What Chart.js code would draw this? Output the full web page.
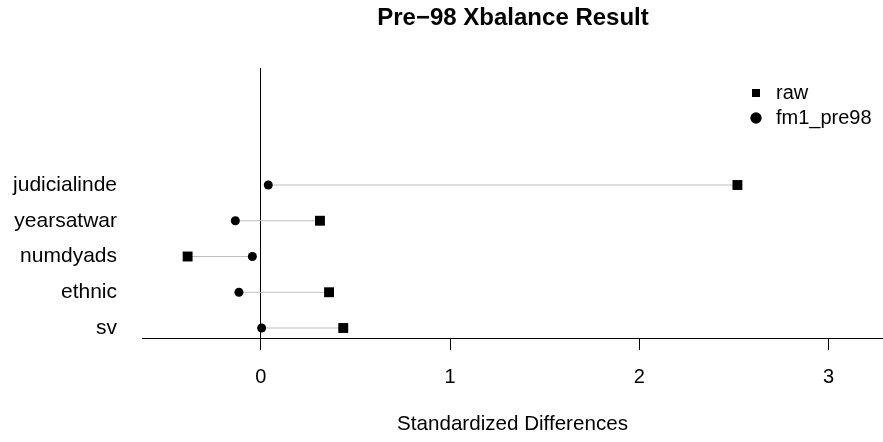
<!DOCTYPE html>
<html>
<head>
<meta charset="utf-8">
<script src="https://cdn.jsdelivr.net/npm/chart.js@4/dist/chart.umd.min.js"></script>
<style>
  html, body { margin: 0; padding: 0; background: #fff; }
  #wrap { width: 883px; height: 442px; }
</style>
</head>
<body>
<div id="wrap"><canvas id="xbalChart"></canvas></div>
<script>
const variables = ["judicialinde", "yearsatwar", "numdyads", "ethnic", "sv"];
const rawDiffs = [2.518, 0.313, -0.386, 0.361, 0.436];
const fm1Diffs = [0.04, -0.134, -0.044, -0.115, 0.005];
const xTicks = [0, 1, 2, 3];

const n = variables.length;
const rowPos = variables.map((v, i) => n - i);

Chart.defaults.font.family = "'Liberation Sans', Arial, sans-serif";
Chart.defaults.color = "#000";

// move title and legend where R put them
const placeBoxes = {
    id: "placeBoxes",
    afterLayout(chart) {
        const area = chart.chartArea;
        if (chart.titleBlock) {
            chart.titleBlock.left = area.left;
            chart.titleBlock.right = area.right + 1;
        }
        if (chart.legend) {
            chart.legend.left = 741;
            chart.legend.top = 78;
        }
    },
};

const connectors = variables.map((v, i) => ({
    label: v,
    data: [
        { x: rawDiffs[i], y: rowPos[i] },
        { x: fm1Diffs[i], y: rowPos[i] },
    ],
    showLine: true,
    borderColor: "#bebebe",
    borderWidth: 1,
    pointRadius: 0,
}));

new Chart(document.getElementById("xbalChart"), {
    type: "scatter",
    data: {
        datasets: [
            {
                label: "raw",
                data: rawDiffs.map((v, i) => ({ x: v, y: rowPos[i] })),
                pointStyle: "rect",
                pointRadius: 7,
                backgroundColor: "#000",
                borderColor: "#000",
                borderWidth: 0,
            },
            {
                label: "fm1_pre98",
                data: fm1Diffs.map((v, i) => ({ x: v, y: rowPos[i] })),
                pointStyle: "circle",
                pointRadius: 4.5,
                backgroundColor: "#000",
                borderColor: "#000",
                borderWidth: 0,
            },
            ...connectors,
        ],
    },
    options: {
        responsive: true,
        maintainAspectRatio: false,
        animation: false,
        layout: { padding: 0, autoPadding: false },
        plugins: {
            tooltip: { enabled: false },
            title: {
                display: true,
                text: "Pre\u221298 Xbalance Result",
                font: { size: 24, weight: "bold" },
                padding: { top: 4, bottom: 35.2 },
            },
            legend: {
                position: "chartArea",
                align: "start",
                labels: {
                    usePointStyle: true,
                    boxWidth: 20,
                    boxHeight: 8,
                    padding: 5,
                    font: { size: 20 },
                    filter: (item) => item.datasetIndex < 2,
                },
            },
        },
        scales: {
            x: {
                type: "linear",
                min: -0.627,
                max: 3.287,
                afterFit: (s) => { s.height = 104; },
                afterBuildTicks: (s) => { s.ticks = xTicks.map((v) => ({ value: v })); },
                border: { display: true, color: "#000", width: 1 },
                grid: {
                    color: (ctx) => (ctx.tick && ctx.tick.value === 0 ? "#000" : "rgba(0,0,0,0)"),
                    tickColor: "#000",
                    tickLength: 12,
                    lineWidth: 1,
                },
                ticks: { font: { size: 20 }, padding: 15 },
                title: {
                    display: true,
                    text: "Standardized Differences",
                    font: { size: 20.6 },
                    padding: { top: 0, bottom: 5 },
                },
            },
            y: {
                type: "linear",
                min: 0.72,
                max: 8.273,
                afterFit: (s) => { s.width = 142; },
                afterBuildTicks: (s) => { s.ticks = rowPos.map((v) => ({ value: v })); },
                border: { display: false },
                grid: { display: false, drawTicks: false },
                ticks: {
                    font: { size: 21 },
                    padding: 25,
                    callback: (val) => variables[n - val],
                },
            },
        },
    },
    plugins: [placeBoxes],
});
</script>
</body>
</html>
